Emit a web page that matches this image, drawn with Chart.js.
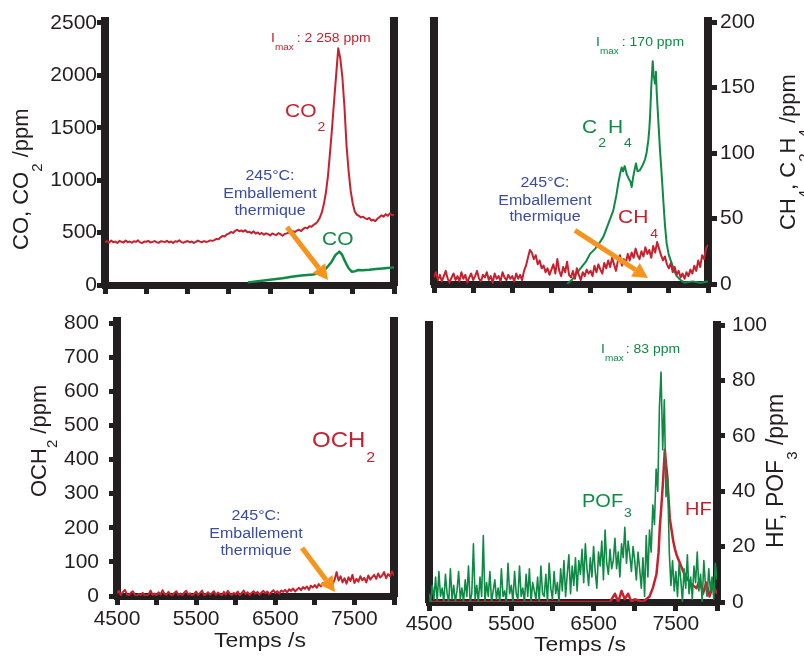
<!DOCTYPE html>
<html>
<head>
<meta charset="utf-8">
<script src="https://cdn.jsdelivr.net/npm/chart.js@4.4.1/dist/chart.umd.min.js"></script>
<style>
  html, body { margin: 0; background: #fff; }
  #wrap { position: relative; width: 804px; height: 657px; overflow: hidden; }
  #wrap canvas { position: absolute; left: 0; top: 0; }
</style>
</head>
<body>
<div id="wrap">
  <canvas id="pCarbon" width="804" height="657"></canvas>
  <canvas id="pHydro" width="804" height="657"></canvas>
  <canvas id="pForm" width="804" height="657"></canvas>
  <canvas id="pFluor" width="804" height="657"></canvas>
</div>
<script>
// ---- axes ----
const timeTicks  = [4500, 5000, 5500, 6000, 6500, 7000, 7500, 8000];
const timeLabels = [4500, 5500, 6500, 7500];
const carbonTicks = [0, 500, 1000, 1500, 2000, 2500];
const hydroTicks  = [0, 50, 100, 150, 200];
const formTicks   = [0, 100, 200, 300, 400, 500, 600, 700, 800];
const fluorTicks  = [0, 20, 40, 60, 80, 100];

// ---- CO2 (ppm), one reading every 25 s from 4500 s ----
const co2 = [
  410,418,404,425,408,414,401,421,412,406,
  424,409,415,403,418,411,426,407,400,416,
  413,421,405,412,419,408,402,417,414,410,
  422,406,415,401,418,412,427,409,404,413,
  420,407,415,402,411,424,414,408,419,411,
  416,426,421,428,440,436,455,468,463,483,
  490,506,497,516,527,513,520,510,523,503,
  507,495,512,490,501,485,497,480,493,485,
  473,491,483,477,495,485,470,487,493,500,
  490,513,505,520,527,515,535,547,540,560,
  555,573,585,605,640,690,770,880,1040,1260,
  1500,1760,2010,2258,2160,1980,1700,1330,1090,900,
  780,700,672,660,645,652,636,628,640,615,
  622,610,634,648,665,652,676,660,683,665,
  672
];

// ---- CO (ppm) ----
const coTimes = [6230,6350,6450,6550,6650,6761,6850,6950,7020,7084,7130,7180,7245,7290,7338,7370,7410,7450,7488,7530,7568,7620,7700,7780,7860,7952,8000];
const co      = [25,35,45,55,65,79,88,95,100,111,125,160,222,285,318,290,220,160,127,132,143,140,145,152,158,165,166];

// ---- CH4 (ppm), every 25 s from 4500 s ----
const ch4 = [
  5,9,3,7,2,6,10,4,1,5,8,3,6,2,9,4,7,1,5,8,
  3,6,10,4,2,7,5,9,3,6,1,8,4,6,2,9,5,3,7,4,
  6,2,8,4,7,3,10,14,20,26,
  24,19,22,15,18,12,14,9,12,7,
  11,15,8,19,10,6,13,9,17,7,
  5,10,4,12,7,3,9,6,11,8,
  10,6,14,9,15,11,8,16,12,18,
  13,20,15,10,18,22,14,19,16,23,
  18,24,20,27,22,19,25,21,28,23,
  26,20,29,24,32,27,22,18,21,15,
  12,16,9,13,7,10,5,8,4,9,
  6,11,8,14,10,18,13,22,19,27,30
];

// ---- C2H4 (ppm) ----
const c2h4Times = [6200,6260,6320,6387,6440,6493,6560,6620,6663,6720,6790,6830,6854,6880,6897,6915,6935,6961,6990,7010,
  7025,7045,7065,7080,7100,7131,7160,7195,7215,7238,7250,7260,7275,7294,7305,7323,7335,7345,7365,7387,
  7410,7429,7450,7472,7500,7536,7570,7600,7650,7700,7800,7900,8000];
const c2h4 = [0,3,8,13,17,23,27,32,36,45,56,68,77,85,89,86,90,84,80,78,
  74,82,88,92,86,87,90,95,100,110,118,128,150,170,160,153,162,146,125,102,
  82,64,45,31,22,16,10,6,3,1,2,1,2];

// ---- OCH2 (ppm), every 25 s from 4500 s ----
const och2 = [
  8,15,3,12,18,5,2,10,14,4,
  0,6,3,9,2,1,5,16,3,7,
  2,11,4,17,6,3,12,5,1,9,
  14,3,7,2,10,15,4,8,1,6,
  13,3,9,16,2,5,11,4,8,14,
  3,10,6,1,12,4,15,7,3,9,
  5,13,2,8,16,6,11,3,9,14,
  7,12,4,10,15,8,13,5,11,17,
  9,14,7,16,12,18,10,20,15,22,
  13,19,24,17,26,21,28,18,30,25,
  32,24,35,28,38,30,42,34,40,36,
  48,70,45,58,40,52,36,55,44,62,
  38,50,42,58,46,53,40,60,48,55,
  62,50,66,54,60,70,52,64,58,72,
  60
];

// ---- POF3 (ppm), every 20 s from 4500 s ----
const pof3 = [
  3,0,6,1,9,0,11,2,5,0,
  10,3,0,12,1,6,0,4,11,1,
  5,0,8,2,13,0,3,21,1,6,
  0,9,2,24,0,7,2,11,0,4,
  8,1,5,0,12,2,4,0,14,3,
  6,0,11,3,1,13,2,5,0,10,
  2,12,0,7,4,1,9,0,13,3,
  2,10,0,14,5,1,11,3,7,0,
  12,4,15,2,10,17,3,13,6,16,
  4,15,10,19,7,21,12,6,16,9,
  20,11,5,18,13,22,8,26,14,10,
  19,12,15,23,12,18,9,21,16,27,
  14,22,17,11,20,15,8,18,12,5,
  16,2,24,9,26,18,35,28,48,40,
  70,83,55,73,38,45,18,6,15,4,
  11,2,14,8,0,12,5,17,3,9,
  1,13,7,18,4,10,0,15,6,2,
  12,4,9,1,14,8
];

// ---- HF (ppm) ----
const hfTimes = [4500,6700,6760,6800,6840,6880,6920,6960,7000,7100,7180,7220,7264,7290,7305,7325,7345,7366,7380,7394,
  7410,7427,7448,7468,7490,7509,7550,7590,7630,7670,7710,7752,7790,7830,7870,7910,7950,8000];
const hf = [0,0,3,0,4,1,3,0,1,0,2,5,10,18,27,35,44,55,50,46,
  38,30,26,22,19,17,14,11,9,7,6,5,8,3,7,2,6,3];

const INK = '#231f20', RED = '#c8202d', GREEN = '#0f8a45', BLUE = '#3a4ba0', ORANGE = '#f7941d';
const FONT = "'Liberation Sans', Arial, sans-serif";
const TICK_FONT = { family: FONT, size: 21 };
const SQ = 0.9;

function sampleTimes(start, step, n) {
  return Array.from({ length: n }, (_, i) => start + i * step);
}

function series(times, values, color, width, order) {
  return {
    data: times.map((t, i) => ({ x: t, y: values[i] })),
    borderColor: color,
    borderWidth: width,
    pointRadius: 0,
    borderJoinStyle: 'round',
    tension: 0,
    fill: false,
    order: order
  };
}

function timeAxis(showLabels, tickLen, pad, height) {
  return {
    type: 'linear', position: 'bottom', min: 4500, max: 8000, z: 1,
    afterBuildTicks: s => { s.ticks = timeTicks.map(v => ({ value: v })); },
    afterFit: s => { s.height = height; },
    border: { width: 7, color: INK },
    grid: { drawOnChartArea: false, tickLength: tickLen, lineWidth: 5, color: INK, tickColor: INK },
    ticks: {
      autoSkip: false, maxRotation: 0, padding: pad, color: INK, font: TICK_FONT,
      callback: v => (showLabels && timeLabels.includes(v)) ? String(v) : ''
    }
  };
}

function valueAxis(pos, max, tickVals, tickLen, pad, width) {
  return {
    type: 'linear', position: pos, min: 0, max: max, z: 1,
    afterBuildTicks: s => { s.ticks = tickVals.map(v => ({ value: v })); },
    afterFit: s => { s.width = width; },
    border: { width: 8, color: INK },
    grid: { drawOnChartArea: false, tickLength: tickLen, lineWidth: 5, color: INK, tickColor: INK },
    ticks: { autoSkip: false, padding: pad, color: INK, font: TICK_FONT, callback: v => String(v) }
  };
}

function barAxis(pos, width) {
  return {
    type: 'linear', position: pos, z: 1,
    afterFit: s => { s.width = width; },
    border: { width: 8, color: INK },
    grid: { display: false },
    ticks: { display: false }
  };
}

function drawRich(ctx, n) {
  const sy = n.sy || 1;
  ctx.save();
  ctx.translate(n.x, n.y);
  if (n.rot) ctx.rotate(n.rot);
  ctx.scale(1, sy);
  ctx.fillStyle = n.c;
  ctx.textBaseline = 'alphabetic';
  ctx.textAlign = 'left';
  const widths = n.parts.map(p => {
    ctx.font = p[1] + 'px ' + FONT;
    return ctx.measureText(p[0]).width + (p[3] || 0);
  });
  const total = widths.reduce((a, b) => a + b, 0);
  let x = n.align === 'center' ? -total / 2 : 0;
  n.parts.forEach((p, i) => {
    ctx.font = p[1] + 'px ' + FONT;
    ctx.fillText(p[0], x + (p[3] || 0), (p[2] || 0) / sy);
    x += widths[i];
  });
  ctx.restore();
}

function drawArrow(ctx, x1, y1, x2, y2) {
  const ang = Math.atan2(y2 - y1, x2 - x1), head = 15, half = 8;
  const bx = x2 - head * Math.cos(ang), by = y2 - head * Math.sin(ang);
  ctx.save();
  ctx.strokeStyle = ORANGE;
  ctx.fillStyle = ORANGE;
  ctx.lineWidth = 5;
  ctx.beginPath();
  ctx.moveTo(x1, y1);
  ctx.lineTo(bx, by);
  ctx.stroke();
  ctx.beginPath();
  ctx.moveTo(x2, y2);
  ctx.lineTo(bx - half * Math.sin(ang), by + half * Math.cos(ang));
  ctx.lineTo(bx + half * Math.sin(ang), by - half * Math.cos(ang));
  ctx.closePath();
  ctx.fill();
  ctx.restore();
}

function notes(texts, arrows) {
  return {
    id: 'notes',
    afterDraw(chart) {
      const ctx = chart.ctx, xs = chart.scales.x, ys = chart.scales.y;
      arrows.forEach(a => drawArrow(ctx,
        xs.getPixelForValue(a[0]), ys.getPixelForValue(a[1]),
        xs.getPixelForValue(a[2]), ys.getPixelForValue(a[3])));
      texts.forEach(t => drawRich(ctx, t));
    }
  };
}

function thermal(cx, y0, y1, y2) {
  return [
    { x: cx, y: y0, c: BLUE, align: 'center', sy: SQ, parts: [['245°C:', 16]] },
    { x: cx, y: y1, c: BLUE, align: 'center', sy: SQ, parts: [['Emballement', 16]] },
    { x: cx, y: y2, c: BLUE, align: 'center', sy: SQ, parts: [['thermique', 16]] }
  ];
}

function panel(id, cfg) {
  new Chart(document.getElementById(id), {
    type: 'line',
    data: { datasets: cfg.datasets },
    options: {
      responsive: false,
      animation: false,
      events: [],
      layout: { padding: cfg.padding },
      plugins: { legend: { display: false }, tooltip: { enabled: false } },
      scales: cfg.scales
    },
    plugins: [notes(cfg.texts, cfg.arrows)]
  });
}

// CO, CO2
panel('pCarbon', {
  padding: { left: 5, top: 21, right: 402, bottom: 332 },
  datasets: [
    series(sampleTimes(4500, 25, co2.length), co2, RED, 2, 0),
    series(coTimes, co, GREEN, 2.5, 1)
  ],
  scales: {
    x: timeAxis(false, 9, 2, 40),
    y: valueAxis('left', 2519, carbonTicks, 8, 0, 100),
    y2: barAxis('right', 8)
  },
  arrows: [[6704, 553, 7201, 48]],
  texts: [
    { x: 271, y: 42, c: RED, sy: SQ, parts: [['I', 14], ['max', 10, 8], [': 2 258 ppm', 14, 0, 3]] },
    { x: 285, y: 117, c: RED, sy: SQ, parts: [['CO', 21], ['2', 14, 14, 1]] },
    { x: 322, y: 245, c: GREEN, sy: SQ, parts: [['CO', 21]] },
    ...thermal(270, 180, 198, 215),
    { x: 28, y: 250, c: INK, rot: -Math.PI / 2, parts: [['CO, CO', 22], ['2', 15, 14], [' /ppm', 22]] }
  ]
});

// CH4, C2H4
panel('pHydro', {
  padding: { left: 404, top: 21, right: 36, bottom: 333 },
  datasets: [
    series(sampleTimes(4500, 25, ch4.length), ch4, RED, 2, 0),
    series(c2h4Times, c2h4, GREEN, 2, 1)
  ],
  scales: {
    x: timeAxis(false, 9, 2, 40),
    y: valueAxis('right', 200.8, hydroTicks, 9, 3, 60),
    y2: barAxis('left', 30)
  },
  arrows: [[6301, 41, 7233, 4.6]],
  texts: [
    { x: 596, y: 46, c: GREEN, sy: SQ, parts: [['I', 14], ['max', 10, 8], [': 170 ppm', 14, 0, 3]] },
    { x: 582, y: 133, c: GREEN, sy: SQ, parts: [['C', 21], ['2', 14, 14, 1], ['H', 21, 0, 2], ['4', 14, 14, 1]] },
    { x: 618, y: 223, c: RED, sy: SQ, parts: [['CH', 21], ['4', 14, 15, 2]] },
    ...thermal(545, 187, 205, 221),
    { x: 795, y: 230, c: INK, rot: -Math.PI / 2,
      parts: [['CH', 22], ['4', 15, 14], [', C', 22], ['2', 15, 14], ['H', 22], ['4', 15, 14], [' /ppm', 22]] }
  ]
});

// OCH2
panel('pForm', {
  padding: { left: 17, top: 321, right: 402, bottom: 11 },
  datasets: [
    series(sampleTimes(4500, 25, och2.length), och2, RED, 2, 0)
  ],
  scales: {
    x: timeAxis(true, 9, 2, 50),
    y: valueAxis('left', 805.9, formTicks, 8, 10, 100),
    y2: barAxis('right', 8)
  },
  arrows: [[6838, 141, 7255, 12]],
  texts: [
    { x: 312, y: 447, c: RED, sy: SQ, parts: [['OCH', 24], ['2', 16, 15, 1]] },
    ...thermal(256, 520, 538, 555),
    { x: 46, y: 497, c: INK, rot: -Math.PI / 2, parts: [['OCH', 22], ['2', 15, 11], [' /ppm', 22]] },
    { x: 260, y: 647, c: INK, align: 'center', sy: SQ, parts: [['Temps /s', 23]] }
  ]
});

// HF, POF3
panel('pFluor', {
  padding: { left: 400, top: 325, right: 27, bottom: 5 },
  datasets: [
    series(sampleTimes(4500, 20, pof3.length), pof3, GREEN, 1.6, 0),
    series(hfTimes, hf, RED, 2.5, 1)
  ],
  scales: {
    x: timeAxis(true, 9, 1, 50),
    y: valueAxis('right', 100, fluorTicks, 8, 7, 60),
    y2: barAxis('left', 29)
  },
  arrows: [],
  texts: [
    { x: 601, y: 353, c: GREEN, sy: SQ, parts: [['I', 14], ['max', 10, 8], [': 83 ppm', 14, 0, 2]] },
    { x: 582, y: 507, c: GREEN, sy: SQ, parts: [['POF', 20], ['3', 14, 10, 1]] },
    { x: 685, y: 515, c: RED, sy: SQ, parts: [['HF', 20]] },
    { x: 783, y: 548, c: INK, rot: -Math.PI / 2, parts: [['HF, POF', 23], ['3', 15, 14], [' /ppm', 23]] },
    { x: 580, y: 651, c: INK, align: 'center', sy: SQ, parts: [['Temps /s', 23]] }
  ]
});
</script>
</body>
</html>
